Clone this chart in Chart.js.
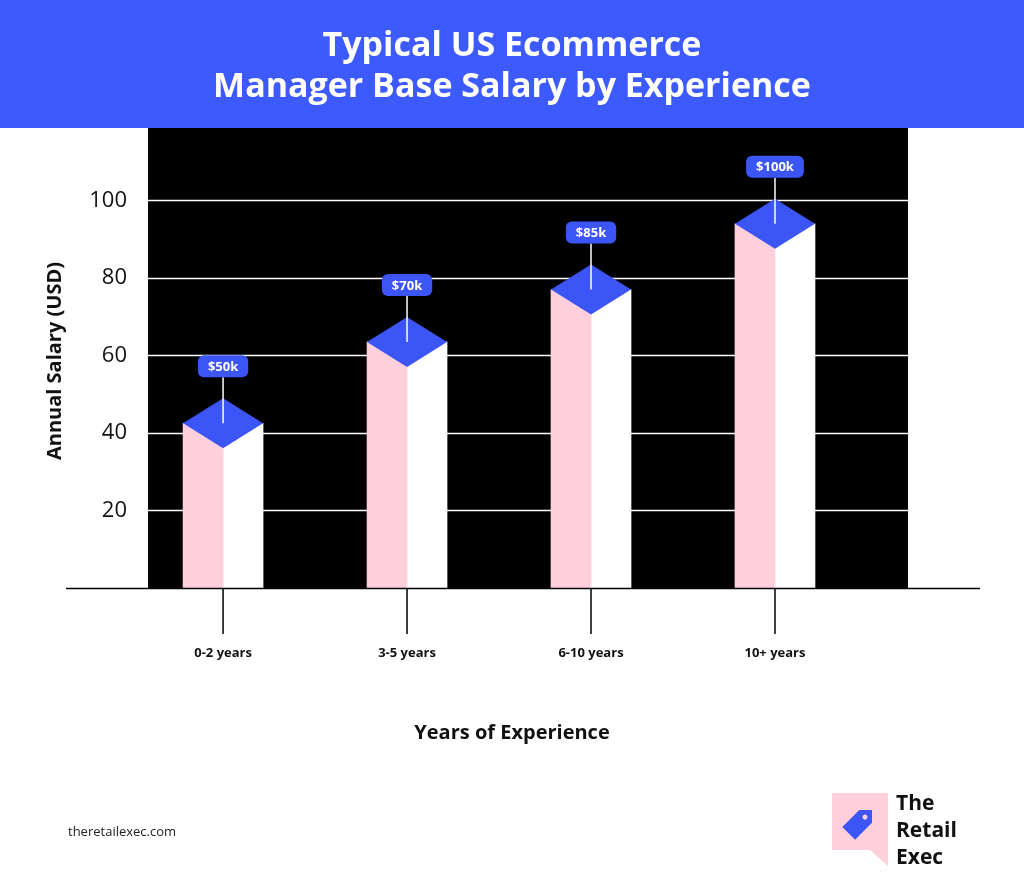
<!DOCTYPE html>
<html>
<head>
<meta charset="utf-8">
<script src="https://cdn.jsdelivr.net/npm/chart.js@4"></script>
<style>
  html, body { margin: 0; padding: 0; background: #fff; }
  #wrap { width: 1024px; height: 895px; position: relative; }
</style>
</head>
<body>
<div id="wrap"><canvas id="salary-chart" width="1024" height="895"></canvas></div>
<script>
// --- Data ---
const categories = ['0-2 years', '3-5 years', '6-10 years', '10+ years'];
const salaryLabels = ['$50k', '$70k', '$85k', '$100k'];
const barHeights = [42.5, 63.5, 77, 94];   // column height
const yTicks = [20, 40, 60, 80, 100];

const BLUE = '#3b55f6';
const PINK = '#ffcfdc';
const FONT = '"Open Sans", "Noto Sans", sans-serif';

// --- Decorations: header, black panel, grid, ticks, labels, logo ---
const decor = {
    id: 'decor',
    beforeDraw(chart) {
        const ctx = chart.ctx;
        const area = chart.chartArea;
        const y = chart.scales.y;
        ctx.save();
        ctx.fillStyle = '#fff';
        ctx.fillRect(0, 0, chart.width, chart.height);
        // header
        ctx.fillStyle = '#3d5afe';
        ctx.fillRect(0, 0, chart.width, 128);
        ctx.fillStyle = '#fff';
        ctx.font = 'bold 34px ' + FONT;
        ctx.textAlign = 'center';
        ctx.textBaseline = 'middle';
        ctx.fillText('Typical US Ecommerce', 512, 46);
        ctx.fillText('Manager Base Salary by Experience', 512, 87);
        // black plot panel
        ctx.fillStyle = '#000';
        ctx.fillRect(area.left, area.top, area.right - area.left, area.bottom - area.top);
        // grid
        ctx.strokeStyle = '#fff';
        ctx.lineWidth = 1.5;
        yTicks.forEach(v => {
            const py = Math.round(y.getPixelForValue(v)) + 0.5;
            ctx.beginPath();
            ctx.moveTo(area.left, py);
            ctx.lineTo(area.right, py);
            ctx.stroke();
        });
        ctx.restore();
    },
    afterDatasetsDraw(chart) {
        const ctx = chart.ctx;
        const area = chart.chartArea;
        const pinkMeta = chart.getDatasetMeta(0);
        const whiteMeta = chart.getDatasetMeta(1);
        const x = chart.scales.x;
        ctx.save();
        // base axis line
        ctx.strokeStyle = '#000';
        ctx.lineWidth = 1.5;
        ctx.beginPath();
        ctx.moveTo(66, area.bottom + 0.5);
        ctx.lineTo(980, area.bottom + 0.5);
        ctx.stroke();
        categories.forEach((c, i) => {
            const cx = x.getPixelForValue(i);
            ctx.beginPath();
            ctx.moveTo(cx, area.bottom);
            ctx.lineTo(cx, area.bottom + 46);
            ctx.stroke();
        });
        // diamond caps and value pills
        pinkMeta.data.forEach((bar, i) => {
            const w = whiteMeta.data[i];
            const left = bar.x - bar.width / 2;
            const right = w.x + w.width / 2;
            const cx = (left + right) / 2;
            const ty = bar.y;
            const hh = 25;
            ctx.fillStyle = BLUE;
            ctx.beginPath();
            ctx.moveTo(left, ty);
            ctx.lineTo(cx, ty - hh);
            ctx.lineTo(right, ty);
            ctx.lineTo(cx, ty + hh);
            ctx.closePath();
            ctx.fill();
            // leader line
            const py = ty - 57;
            ctx.strokeStyle = '#fff';
            ctx.lineWidth = 1.5;
            ctx.beginPath();
            ctx.moveTo(cx, py + 11);
            ctx.lineTo(cx, ty);
            ctx.stroke();
            // pill
            ctx.font = 'bold 13px ' + FONT;
            const tw = ctx.measureText(salaryLabels[i]).width + 20;
            ctx.fillStyle = BLUE;
            ctx.beginPath();
            ctx.roundRect(cx - tw / 2, py - 11, tw, 22, 6);
            ctx.fill();
            ctx.fillStyle = '#fff';
            ctx.textAlign = 'center';
            ctx.textBaseline = 'middle';
            ctx.fillText(salaryLabels[i], cx, py + 1);
        });
        // axis titles
        ctx.fillStyle = '#111';
        ctx.font = 'bold 20px ' + FONT;
        ctx.textAlign = 'center';
        ctx.textBaseline = 'middle';
        ctx.fillText('Years of Experience', 512, 733);
        ctx.save();
        ctx.translate(55, 361);
        ctx.rotate(-Math.PI / 2);
        ctx.fillText('Annual Salary (USD)', 0, 0);
        ctx.restore();
        // footer
        ctx.font = '13px ' + FONT;
        ctx.textAlign = 'left';
        ctx.fillStyle = '#222';
        ctx.fillText('theretailexec.com', 68, 832);
        // logo
        ctx.fillStyle = PINK;
        ctx.beginPath();
        ctx.moveTo(832, 793);
        ctx.lineTo(888, 793);
        ctx.lineTo(888, 866);
        ctx.lineTo(870, 850);
        ctx.lineTo(832, 850);
        ctx.closePath();
        ctx.fill();
        ctx.fillStyle = BLUE;
        ctx.save();
        ctx.translate(860, 822);
        ctx.rotate(-Math.PI / 4);
        ctx.beginPath();
        ctx.moveTo(-16, -9);
        ctx.lineTo(8, -9);
        ctx.lineTo(17, 0);
        ctx.lineTo(8, 9);
        ctx.lineTo(-16, 9);
        ctx.closePath();
        ctx.fill();
        ctx.fillStyle = PINK;
        ctx.beginPath();
        ctx.arc(7, 0, 2.5, 0, Math.PI * 2);
        ctx.fill();
        ctx.restore();
        ctx.fillStyle = '#111';
        ctx.font = 'bold 21px ' + FONT;
        ctx.textBaseline = 'middle';
        ctx.fillText('The', 896, 804);
        ctx.fillText('Retail', 896, 831);
        ctx.fillText('Exec', 896, 858);
        ctx.restore();
    }
};

new Chart(document.getElementById('salary-chart'), {
    type: 'bar',
    data: {
        datasets: [{
            data: barHeights.map((v, i) => ({ x: i, y: v })),
            backgroundColor: PINK,
            barThickness: 40
        }, {
            data: barHeights.map((v, i) => ({ x: i, y: v })),
            backgroundColor: '#ffffff',
            barThickness: 40
        }]
    },
    options: {
        responsive: false,
        animation: false,
        layout: { padding: { top: 128, right: 116, bottom: 0, left: 0 } },
        plugins: { legend: { display: false }, tooltip: { enabled: false } },
        scales: {
            x: {
                type: 'linear',
                offset: false,
                min: -0.408,
                max: 3.723,
                afterBuildTicks: s => { s.ticks = categories.map((c, i) => ({ value: i })); },
                afterFit: s => { s.height = 307; },
                grid: { display: false, offset: false },
                border: { display: false },
                ticks: {
                    padding: 49,
                    color: '#111',
                    font: { family: FONT, size: 13, weight: 'bold' },
                    callback: v => categories[v]
                }
            },
            y: {
                min: 0,
                max: 118.7,
                afterBuildTicks: s => { s.ticks = yTicks.map(v => ({ value: v })); },
                afterFit: s => { s.width = 148; },
                grid: { display: false },
                border: { display: false },
                ticks: {
                    padding: 13,
                    color: '#111',
                    font: { family: FONT, size: 22 }
                }
            }
        }
    },
    plugins: [decor]
});
</script>
</body>
</html>
